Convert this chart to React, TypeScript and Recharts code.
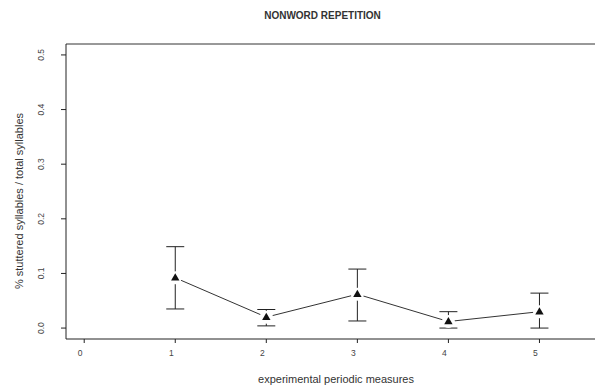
import React from "react";
import {
  ComposedChart,
  Line,
  Scatter,
  ErrorBar,
  XAxis,
  YAxis,
  ReferenceLine,
} from "recharts";

const measures = [1, 2, 3, 4, 5];
const meanValues = [0.092, 0.02, 0.062, 0.012, 0.03];
const lowerValues = [0.035, 0.004, 0.013, 0.0, 0.0];
const upperValues = [0.149, 0.034, 0.108, 0.03, 0.064];
const xTicks = [0, 1, 2, 3, 4, 5];
const yTicks = [0, 0.1, 0.2, 0.3, 0.4, 0.5];
const titleText = "NONWORD REPETITION";
const xTitle = "experimental periodic measures";
const yTitle = "% stuttered syllables / total syllables";

const data = measures.map((x, i) => ({
  x,
  mean: meanValues[i],
  err: [meanValues[i] - lowerValues[i], upperValues[i] - meanValues[i]],
}));

const FONT = "'Liberation Sans', Arial, Helvetica, sans-serif";

const Triangle = (props: any) => {
  const { cx, cy } = props;
  if (cx == null || cy == null) return null;
  return (
    <path
      d={`M${cx},${cy - 4.5} L${cx + 4.2},${cy + 2.8} L${cx - 4.2},${cy + 2.8} Z`}
      fill="#111"
      stroke="none"
    />
  );
};

const GapDot = (props: any) => {
  const { cx, cy } = props;
  if (cx == null || cy == null) return null;
  return <circle cx={cx} cy={cy} r={6.5} fill="#fff" stroke="none" />;
};

const YTick = (props: any) => {
  const { y, payload } = props;
  const bx = 44.5;
  return (
    <text
      x={bx}
      y={y}
      transform={`rotate(-90, ${bx}, ${y})`}
      textAnchor="middle"
      fontSize={8.5}
      fill="#444"
      fontFamily={FONT}
    >
      {payload.value.toFixed(1)}
    </text>
  );
};

const XTick = (props: any) => {
  const { x, y, payload } = props;
  return (
    <text
      x={x - 4}
      y={y + 11}
      textAnchor="middle"
      fontSize={8.5}
      fill="#444"
      fontFamily={FONT}
    >
      {payload.value}
    </text>
  );
};

export default function App() {
  return (
    <div
      style={{
        position: "absolute",
        left: 0,
        top: 0,
        width: 595,
        height: 385,
        background: "#fff",
        overflow: "hidden",
      }}
    >
      <div
        style={{
          position: "absolute",
          left: 0,
          width: 645,
          top: 10,
          textAlign: "center",
          fontFamily: FONT,
          fontWeight: "bold",
          fontSize: 10,
          color: "#333",
        }}
      >
        {titleText}
      </div>
      <ComposedChart
        width={595}
        height={385}
        data={data}
        margin={{ top: 44, right: 0, bottom: 0, left: 0 }}
      >
        <XAxis
          dataKey="x"
          type="number"
          domain={[-0.2, 5.61]}
          ticks={xTicks}
          allowDataOverflow
          height={46}
          tickSize={4}
          stroke="#222"
          tick={<XTick />}
          label={() => (
            <text
              x={336}
              y={383}
              textAnchor="middle"
              fontSize={11}
              fill="#333"
              fontFamily={FONT}
            >
              {xTitle}
            </text>
          )}
        />
        <YAxis
          type="number"
          domain={[-0.02, 0.52]}
          ticks={yTicks}
          allowDataOverflow
          width={66}
          tickSize={5}
          stroke="#222"
          tick={<YTick />}
          label={() => (
            <text
              x={23}
              y={201}
              transform={`rotate(-90, 23, 201)`}
              textAnchor="middle"
              fontSize={11}
              fill="#333"
              fontFamily={FONT}
            >
              {yTitle}
            </text>
          )}
        />
        <ReferenceLine y={0.52} stroke="#333" strokeWidth={1} ifOverflow="visible" />
        <Line
          dataKey="mean"
          stroke="#333"
          strokeWidth={1}
          dot={<GapDot />}
          activeDot={false}
          isAnimationActive={false}
        />
        <Scatter
          dataKey="mean"
          shape={<Triangle />}
          isAnimationActive={false}
        >
          <ErrorBar
            dataKey="err"
            direction="y"
            width={9}
            stroke="#222"
            strokeWidth={1}
            isAnimationActive={false}
          />
        </Scatter>
      </ComposedChart>
    </div>
  );
}
